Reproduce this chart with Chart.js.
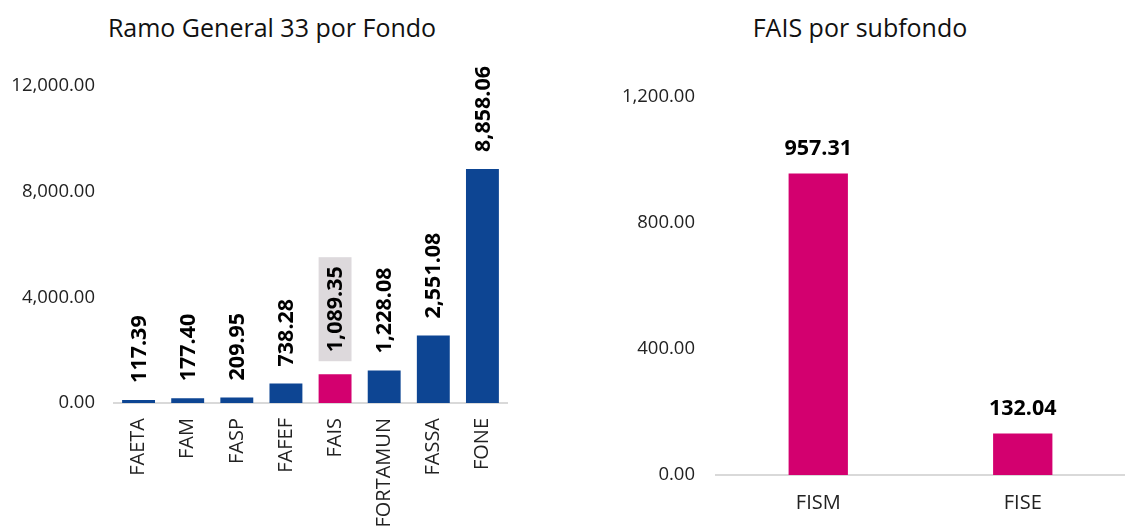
<!DOCTYPE html>
<html>
<head>
<meta charset="utf-8">
<script src="https://cdn.jsdelivr.net/npm/chart.js@4.4.1/dist/chart.umd.min.js"></script>
<style>
    body { margin: 0; background: #fff; width: 1125px; height: 529px; overflow: hidden; position: relative; }
    canvas { position: absolute; top: 0; }
    #left { left: 0; }
    #right { left: 595px; }
    .titulo {
        position: absolute; top: 12px; height: 30px; line-height: 30px;
        font-family: "Open Sans", "Noto Sans", sans-serif; font-size: 25px; color: #111;
        text-align: center; white-space: nowrap;
    }
</style>
</head>
<body>
<div class="titulo" style="left: 72px; width: 400px;">Ramo General 33 por Fondo</div>
<div class="titulo" style="left: 660px; width: 400px;">FAIS por subfondo</div>
<canvas id="left" width="544" height="529"></canvas>
<canvas id="right" width="530" height="529"></canvas>
<script>
// Ramo General 33 por fondo (mdp)
const fondos = ["FAETA", "FAM", "FASP", "FAFEF", "FAIS", "FORTAMUN", "FASSA", "FONE"]
const montosFondo = [117.39, 177.40, 209.95, 738.28, 1089.35, 1228.08, 2551.08, 8858.06]
const ticksFondo = [0, 4000, 8000, 12000]

// FAIS por subfondo
const subfondos = ["FISM", "FISE"]
const montosSubfondo = [957.31, 132.04]
const ticksSubfondo = [0, 400, 800, 1200]

const AZUL = "#0d4593"
const ROSA = "#d3006f"
const FONT = '"Open Sans", "Noto Sans", sans-serif'

const fmt = v => v.toLocaleString("en-US", { minimumFractionDigits: 2, maximumFractionDigits: 2 })

// Draws the value labels above each bar
const barLabels = {
    id: "barLabels",
    afterDatasetsDraw(chart, args, opts) {
        const ctx = chart.ctx
        const data = chart.data.datasets[0].data
        chart.getDatasetMeta(0).data.forEach((bar, i) => {
            const text = fmt(data[i])
            ctx.save()
            ctx.font = "bold 21.5px " + FONT
            ctx.fillStyle = "#000"
            if (opts.rotate) {
                let gap = 17
                if (i === opts.highlight) {
                    gap = 22
                    const w = ctx.measureText(text).width
                    ctx.fillStyle = "#ddd9dc"
                    ctx.fillRect(bar.x - bar.width / 2, bar.y - gap - w - 9, bar.width, w + 18)
                    ctx.fillStyle = "#000"
                }
                ctx.translate(bar.x + 1, bar.y - gap)
                ctx.rotate(-Math.PI / 2)
                ctx.textAlign = "left"
                ctx.textBaseline = "middle"
                ctx.fillText(text, 0, 0)
            } else {
                ctx.textAlign = "center"
                ctx.textBaseline = "alphabetic"
                ctx.fillText(text, bar.x, bar.y - 18)
            }
            ctx.restore()
        })
    }
}

function makeChart(id, opts) {
    return new Chart(document.getElementById(id), {
        type: "bar",
        data: {
            labels: opts.labels,
            datasets: [{
                data: opts.values,
                backgroundColor: opts.colors,
                categoryPercentage: 1,
                barPercentage: opts.barPct
            }]
        },
        options: {
            responsive: false,
            animation: false,
            layout: { padding: { left: 0, right: opts.padRight, top: opts.padTop, bottom: 0 } },
            scales: {
                x: {
                    grid: { display: false, drawTicks: false },
                    border: { color: "#d9d9d9", width: 2 },
                    afterFit: s => { s.height = opts.xHeight },
                    ticks: {
                        color: "#222",
                        font: { family: FONT, size: opts.xFont },
                        autoSkip: false,
                        minRotation: opts.xRot,
                        maxRotation: opts.xRot,
                        padding: opts.xPad
                    }
                },
                y: {
                    min: 0,
                    max: opts.ticks[opts.ticks.length - 1],
                    grid: { display: false, drawTicks: false },
                    border: { display: false },
                    afterFit: s => { s.width = opts.yWidth },
                    afterBuildTicks: s => { s.ticks = opts.ticks.map(v => ({ value: v })) },
                    ticks: {
                        color: "#222",
                        font: { family: FONT, size: 18.5 },
                        padding: opts.yPad,
                        callback: v => fmt(v)
                    }
                }
            },
            plugins: {
                legend: { display: false },
                tooltip: { enabled: false },
                barLabels: { rotate: opts.rotate, highlight: opts.highlight }
            }
        },
        plugins: [barLabels]
    })
}

makeChart("left", {
    labels: fondos,
    values: montosFondo,
    colors: fondos.map(f => f === "FAIS" ? ROSA : AZUL),
    barPct: 0.67,
    padRight: 37,
    padTop: 86,
    xHeight: 126,
    xFont: 20,
    xRot: 90,
    xPad: 15,
    yWidth: 114,
    yPad: 19,
    ticks: ticksFondo,
    rotate: true,
    highlight: fondos.indexOf("FAIS")
})

makeChart("right", {
    labels: subfondos,
    values: montosSubfondo,
    colors: ROSA,
    barPct: 0.29,
    padRight: 0,
    padTop: 97,
    xHeight: 54,
    xFont: 20,
    xRot: 0,
    xPad: 16,
    yWidth: 121,
    yPad: 21,
    ticks: ticksSubfondo,
    rotate: false,
    highlight: -1
})
</script>
</body>
</html>
